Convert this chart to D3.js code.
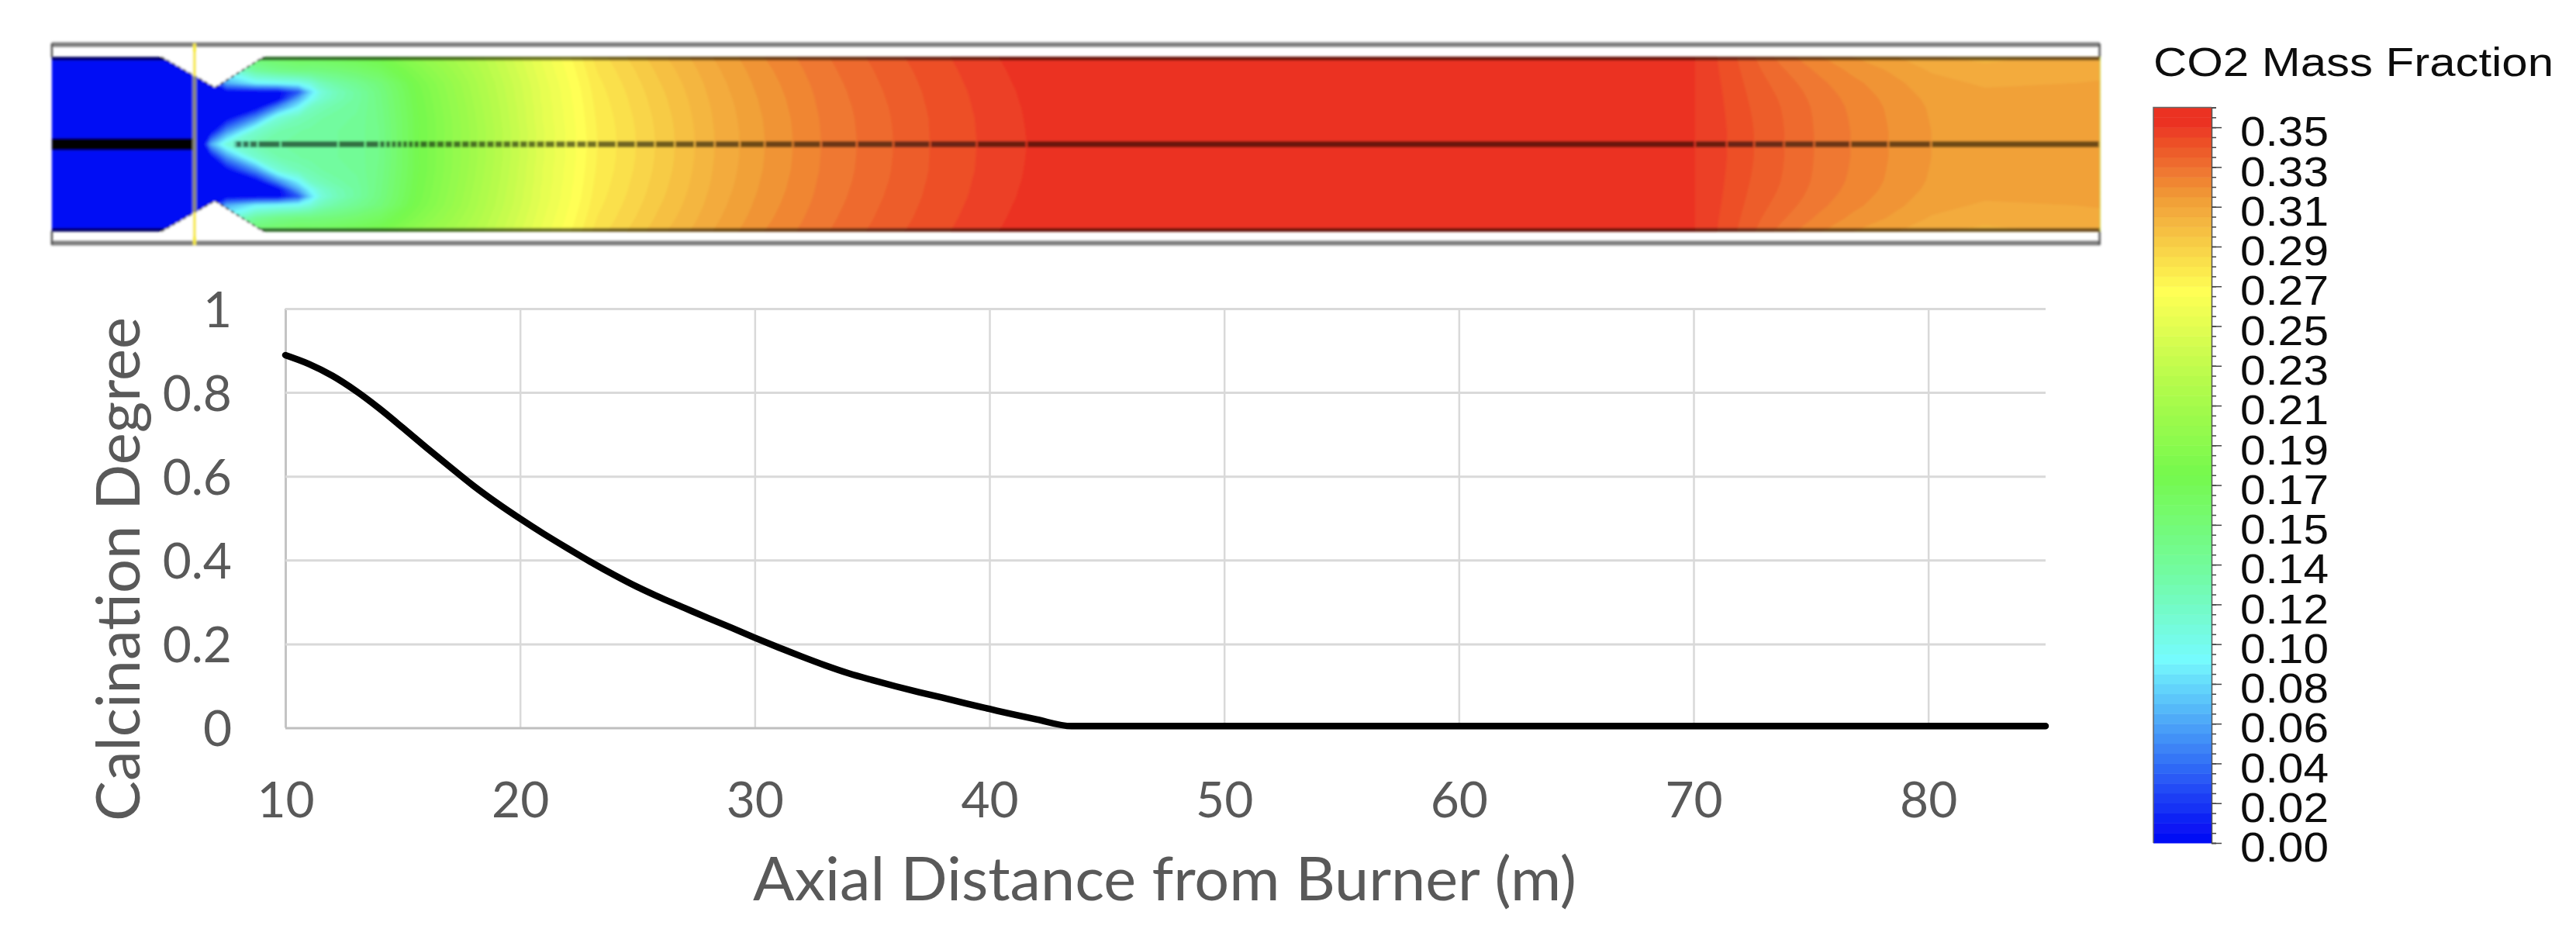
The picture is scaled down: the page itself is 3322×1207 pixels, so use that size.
<!DOCTYPE html>
<html>
<head>
<meta charset="utf-8">
<script src="https://cdn.jsdelivr.net/npm/d3@7"></script>
<style>
  body { margin: 0; background: #fff; }
  svg { display: block; }
</style>
</head>
<body>
<svg id="chart" width="3322" height="1207"></svg>
<script>
// calcination curve
const distanceM = [10, 11, 12, 13, 14, 15, 16, 17, 18, 19, 20, 21, 22, 23, 24, 25, 26, 27, 28, 29, 30, 31, 32, 33, 34, 35, 36, 37, 38, 39, 40, 41, 42, 43.5, 85];
const calcinationDegree = [0.889, 0.868, 0.84, 0.804, 0.762, 0.716, 0.669, 0.623, 0.578, 0.537, 0.499, 0.463, 0.429, 0.396, 0.365, 0.336, 0.31, 0.286, 0.262, 0.239, 0.215, 0.192, 0.17, 0.149, 0.13, 0.114, 0.099, 0.085, 0.072, 0.058, 0.045, 0.032, 0.02, 0.004, 0.004];
const xTicks = [10, 20, 30, 40, 50, 60, 70, 80];
const yTicks = [0, 0.2, 0.4, 0.6, 0.8, 1];

// legend
const legendLabels = ["0.00", "0.02", "0.04", "0.06", "0.08", "0.10", "0.12", "0.14", "0.15", "0.17", "0.19", "0.21", "0.23", "0.25", "0.27", "0.29", "0.31", "0.33", "0.35"];
const bandCount = 74;
const bandStep = 0.004825;
const colorStops = [0, 0.125, 0.25, 0.375, 0.5, 0.625, 0.75, 0.875, 0.98];
const colorValues = ["#0000f5", "#3a80f6", "#75fbfd", "#72fb9c", "#75f94d", "#b4fb4c", "#ffff54", "#f19e38", "#eb3323"];

// kiln geometry, axial in metres, radius as fraction of the wall
const kilnStart = 0.05;
const kilnEnd = 87.3;
const neckAxial = [4.71, 7.0, 9.07];
const neckRadius = [1, 0.65, 1];
const burnerAxial = 6.13;
const jetStart = 7.82;

// CO2 field, one profile per axial station, centre to wall
const radialStations = [0, 0.15, 0.3, 0.42, 0.52, 0.6, 0.7, 0.85, 1];
const axialStations = [0.05, 6.10, 6.50, 6.83, 7.49, 8.74, 9.67, 10.56, 11.06, 11.55, 12.21, 13.04, 14.03, 15.68, 18.33, 20.97, 23.28, 25.92, 28.30, 30.42, 32.83, 34.35, 35.90, 37.49, 39.47, 41.58, 44.09, 68.87, 70.03, 71.41, 72.57, 73.86, 75.14, 76.67, 78.28, 80.13, 82.41, 87.3];
const co2Profiles = [
  [0, 0, 0, 0, 0, 0, 0, 0, 0],
  [0, 0, 0, 0, 0, 0, 0, 0, 0],
  [0, 0, 0, 0, 0, 0, 0, 0, 0],
  [.06, 0, 0, 0, 0, 0, 0, 0, 0],
  [.105, .05, 0, 0, 0, 0, .06, .10, .12],
  [.125, .11, .05, 0, 0, 0, .085, .135, .16],
  [.13, .125, .105, .05, 0, 0, .09, .145, .165],
  [.132, .13, .12, .09, .06, .03, .095, .15, .17],
  [.133, .132, .125, .115, .09, .075, .105, .15, .17],
  [.134, .133, .13, .122, .11, .105, .12, .152, .17],
  [.135, .135, .133, .129, .122, .12, .13, .155, .172],
  [.137, .137, .136, .134, .132, .132, .14, .16, .175],
  [.145, .145, .146, .147, .148, .149, .153, .168, .18],
  [.178, .178, .178, .179, .18, .181, .183, .19, .198],
  [.214, .214, .215, .216, .217, .218, .219, .222, .225],
  [.25, .25, .251, .251, .252, .252, .253, .255, .257],
  [.275, .2751, .2756, .2763, .2769, .2775, .2784, .28, .282],
  [.2905, .2906, .2911, .2918, .2924, .293, .2939, .2955, .2975],
  [.304, .3041, .3045, .3049, .3054, .3059, .3065, .3077, .3092],
  [.3136, .3137, .314, .3145, .3149, .3154, .316, .3171, .3185],
  [.3233, .3234, .3236, .324, .3243, .3246, .3251, .326, .327],
  [.3281, .3282, .3284, .3287, .3291, .3294, .3299, .3307, .3317],
  [.3329, .333, .3332, .3335, .3339, .3342, .3347, .3355, .3365],
  [.3378, .3379, .338, .3383, .3386, .3388, .3392, .3398, .3406],
  [.3426, .3427, .3428, .3431, .3433, .3435, .3439, .3445, .3452],
  [.3474, .3475, .3477, .3479, .3482, .3484, .3488, .3494, .3502],
  [.352, .352, .352, .352, .352, .352, .352, .352, .352],
  [.352, .352, .352, .352, .352, .352, .352, .352, .352],
  [.3475, .3475, .3475, .3475, .3475, .3475, .3475, .3475, .3475],
  [.3426, .3426, .3424, .3422, .342, .3418, .3415, .341, .3404],
  [.3378, .3377, .3374, .337, .3365, .3361, .3355, .3344, .3331],
  [.3329, .3329, .3327, .3324, .3319, .3313, .3303, .3283, .3254],
  [.3281, .328, .3278, .3275, .3269, .3263, .3252, .323, .3197],
  [.3233, .3233, .323, .3226, .322, .3212, .3201, .3176, .3139],
  [.3185, .3185, .3182, .3179, .3173, .3166, .3156, .3133, .31],
  [.3136, .3136, .3133, .313, .3124, .3116, .3106, .3082, .3047],
  [.3125, .3123, .3118, .3112, .3108, .3095, .308, .306, .302],
  [.312, .312, .3115, .311, .3105, .31, .309, .308, .306]
];

const svg = d3.select("#chart");

const defs = svg.append("defs");
defs.append("filter").attr("id", "soft")
  .attr("filterUnits", "userSpaceOnUse")
  .attr("x", 0).attr("y", 0).attr("width", 3322).attr("height", 400)
  .append("feGaussianBlur").attr("stdDeviation", 1.7);
defs.append("filter").attr("id", "softLegend")
  .attr("filterUnits", "userSpaceOnUse")
  .attr("x", 2700).attr("y", 0).attr("width", 622).attr("height", 1207)
  .append("feGaussianBlur").attr("stdDeviation", 0.7);

// shared axial scale, the kiln and the plot line up
const x = d3.scaleLinear().domain([10, 85]).range([368, 2638]);
const y = d3.scaleLinear().domain([0, 1]).range([938.5, 398]);
const yKiln = d3.scaleLinear().domain([-1, 1]).range([298.5, 73.5]);

const bandColor = d3.scaleLinear()
  .domain(colorStops.map(d => d * bandCount * bandStep))
  .range(colorValues)
  .clamp(true);

drawKiln();
drawPlot();
drawLegend();

function drawKiln() {
  const g = svg.append("g").attr("filter", "url(#soft)");

  // mirror the half profiles over the axis, top wall first
  const radii = radialStations.slice().reverse().concat(radialStations.slice(1).map(d => -d));
  const rowIndex = radialStations.map((d, i) => i).reverse().concat(radialStations.slice(1).map((d, i) => i + 1));
  const values = [];
  rowIndex.forEach(r => co2Profiles.forEach(profile => values.push(profile[r])));

  const colToAxial = d3.scaleLinear().domain(d3.range(axialStations.length)).range(axialStations).clamp(true);
  const rowToRadius = d3.scaleLinear().domain(d3.range(radii.length)).range(radii).clamp(true);
  const path = d3.geoPath(d3.geoTransform({
    point(cx, cy) {
      this.stream.point(x(colToAxial(cx - 0.5)), yKiln(rowToRadius(cy - 0.5)));
    }
  }));

  const thresholds = d3.range(1, bandCount).map(k => k * bandStep);
  const contours = d3.contours()
    .size([axialStations.length, radii.length])
    .thresholds(thresholds)(values);

  g.append("rect")
    .attr("x", x(kilnStart)).attr("y", yKiln(1))
    .attr("width", x(kilnEnd) - x(kilnStart)).attr("height", yKiln(-1) - yKiln(1))
    .attr("fill", bandColor(0.5 * bandStep));

  g.selectAll(".band")
    .data(contours)
    .enter().append("path")
    .attr("class", "band")
    .attr("d", path)
    .attr("fill", (d, i) => bandColor((i + 1.5) * bandStep))
    .attr("stroke", (d, i) => bandColor((i + 1.5) * bandStep))
    .attr("stroke-width", 0.5);

  // dark edge along both walls
  [1, -1].forEach(side => {
    g.append("line")
      .attr("x1", x(kilnStart)).attr("x2", x(kilnEnd))
      .attr("y1", yKiln(side) + side * 2).attr("y2", yKiln(side) + side * 2)
      .attr("stroke", "#000").attr("stroke-opacity", 0.55).attr("stroke-width", 5);
  });

  // burner jet centreline, thick and black before the burner tip
  g.append("line")
    .attr("x1", x(kilnStart)).attr("x2", x(burnerAxial))
    .attr("y1", yKiln(0)).attr("y2", yKiln(0))
    .attr("stroke", "#000").attr("stroke-width", 15);

  // centreline breaks at each band edge
  const centre = co2Profiles.map(p => p[0]);
  const breaks = [jetStart];
  for (let i = 1; i < axialStations.length; i++) {
    thresholds.forEach(t => {
      const a = centre[i - 1], b = centre[i];
      if ((a < t && b >= t) || (a >= t && b < t)) {
        const m = axialStations[i - 1] + (t - a) / (b - a) * (axialStations[i] - axialStations[i - 1]);
        if (m > jetStart) breaks.push(m);
      }
    });
  }
  breaks.push(kilnEnd);
  breaks.sort(d3.ascending);
  g.selectAll(".dash")
    .data(d3.pairs(breaks))
    .enter().append("line")
    .attr("class", "dash")
    .attr("x1", d => x(d[0]) + 1).attr("x2", d => x(d[1]) - 1)
    .attr("y1", yKiln(0)).attr("y2", yKiln(0))
    .attr("stroke", "#000").attr("stroke-opacity", 0.55).attr("stroke-width", 8);

  // white wedges of the neck
  [1, -1].forEach(side => {
    const pts = neckAxial.map((m, i) => [x(m), yKiln(side * neckRadius[i])]);
    const outer = yKiln(side * 1.05);
    g.append("path")
      .attr("d", d3.line()([[pts[0][0], outer], ...pts, [pts[2][0], outer]]))
      .attr("fill", "#fff");
    g.append("path")
      .attr("d", d3.line()(pts))
      .attr("fill", "none")
      .attr("stroke", "#222").attr("stroke-width", 2).attr("stroke-dasharray", "5 3");
  });

  // outer shell
  [57.5, 313.5].forEach(wy => {
    g.append("line")
      .attr("x1", x(kilnStart)).attr("x2", x(kilnEnd))
      .attr("y1", wy).attr("y2", wy)
      .attr("stroke", "#7c7c7c").attr("stroke-width", 6);
  });
  [kilnStart, kilnEnd].forEach(m => {
    [[56, 74], [298, 316]].forEach(span => {
      g.append("line")
        .attr("x1", x(m)).attr("x2", x(m))
        .attr("y1", span[0]).attr("y2", span[1])
        .attr("stroke", "#222").attr("stroke-width", 2);
    });
  });

  // burner plane
  g.append("line")
    .attr("x1", x(burnerAxial)).attr("x2", x(burnerAxial))
    .attr("y1", 56).attr("y2", 316)
    .attr("stroke", "#f6e93c").attr("stroke-width", 4);
  g.append("line")
    .attr("x1", x(burnerAxial)).attr("x2", x(burnerAxial))
    .attr("y1", yKiln(0.78)).attr("y2", yKiln(-0.78))
    .attr("stroke", "#8a8a80").attr("stroke-width", 5);
}

function drawPlot() {
  const g = svg.append("g");

  // grid comes from the axes
  const xAxis = d3.axisBottom(x).tickValues(xTicks).tickSize(y(1) - y(0)).tickPadding(0).tickFormat(d3.format("d"));
  const xGroup = g.append("g").attr("transform", `translate(0,${y(0)})`).call(xAxis);
  xGroup.select(".domain").remove();
  xGroup.selectAll(".tick line").attr("stroke", "#d9d9d9").attr("stroke-width", 2.5);
  xGroup.selectAll(".tick").filter(d => d === 10).select("line").attr("stroke", "#c4c4c4").attr("stroke-width", 3);
  xGroup.selectAll(".tick text")
    .attr("y", 115).attr("dy", 0)
    .attr("font-family", "Lato").attr("font-size", 64).attr("fill", "#595959");

  const yAxis = d3.axisLeft(y).tickValues(yTicks).tickSize(x(10) - x(85)).tickPadding(0).tickFormat(d3.format("~g"));
  const yGroup = g.append("g").attr("transform", `translate(${x(10)},0)`).call(yAxis);
  yGroup.select(".domain").remove();
  yGroup.selectAll(".tick line").attr("stroke", "#d9d9d9").attr("stroke-width", 3);
  yGroup.selectAll(".tick").filter(d => d === 0).select("line").attr("stroke", "#bfbfbf");
  yGroup.selectAll(".tick text")
    .attr("x", 299 - x(10)).attr("dy", "0.36em")
    .attr("font-family", "Lato").attr("font-size", 64).attr("fill", "#595959");

  const line = d3.line()
    .x((d, i) => x(distanceM[i]))
    .y(d => y(d))
    .curve(d3.curveMonotoneX);
  g.append("path")
    .attr("d", line(calcinationDegree))
    .attr("fill", "none")
    .attr("stroke", "#000").attr("stroke-width", 8.5).attr("stroke-linecap", "round");

  g.append("text")
    .attr("x", 1502).attr("y", 1161)
    .attr("text-anchor", "middle")
    .attr("font-family", "Lato").attr("font-size", 78).attr("fill", "#595959")
    .attr("textLength", 1062).attr("lengthAdjust", "spacingAndGlyphs")
    .text("Axial Distance from Burner (m)");

  g.append("text")
    .attr("transform", "translate(180,734) rotate(-90)")
    .attr("text-anchor", "middle")
    .attr("font-family", "Lato").attr("font-size", 78).attr("fill", "#595959")
    .attr("textLength", 650).attr("lengthAdjust", "spacingAndGlyphs")
    .text("Calcination Degree");
}

function drawLegend() {
  const g = svg.append("g").attr("filter", "url(#softLegend)");
  const scale = d3.scaleLinear().domain([0, bandCount]).range([1087, 138.5]);

  g.selectAll(".legendBand")
    .data(d3.range(bandCount))
    .enter().append("rect")
    .attr("class", "legendBand")
    .attr("x", 2777).attr("width", 75)
    .attr("y", d => scale(d + 1))
    .attr("height", d => scale(d) - scale(d + 1) + 0.5)
    .attr("fill", d => bandColor((d + 0.5) * bandStep));

  g.append("path")
    .attr("d", "M2777,1087V138.5H2852")
    .attr("fill", "none").attr("stroke", "#666").attr("stroke-width", 1.5);

  const minor = d3.axisRight(scale).tickValues(d3.range(0, bandCount + 1)).tickSize(6).tickFormat("");
  const minorGroup = g.append("g").attr("transform", "translate(2852,0)").call(minor);
  minorGroup.select(".domain").attr("stroke", "#555").attr("stroke-width", 1.5);
  minorGroup.selectAll(".tick line").attr("stroke", "#444").attr("stroke-width", 1.5);

  const major = d3.axisRight(scale)
    .tickValues(d3.range(0, bandCount, 4))
    .tickSize(13).tickPadding(24)
    .tickFormat((d, i) => legendLabels[i]);
  const majorGroup = g.append("g").attr("transform", "translate(2852,0)").call(major);
  majorGroup.select(".domain").remove();
  majorGroup.selectAll(".tick line").attr("stroke", "#444").attr("stroke-width", 1.5);
  majorGroup.selectAll(".tick text")
    .attr("dy", "0.44em")
    .attr("font-family", "Liberation Sans").attr("font-size", 54).attr("fill", "#111")
    .attr("textLength", 114).attr("lengthAdjust", "spacingAndGlyphs");

  g.append("text")
    .attr("x", 2777).attr("y", 98)
    .attr("font-family", "Liberation Sans").attr("font-size", 52).attr("fill", "#111")
    .attr("textLength", 516).attr("lengthAdjust", "spacingAndGlyphs")
    .text("CO2 Mass Fraction");
}
</script>
</body>
</html>
